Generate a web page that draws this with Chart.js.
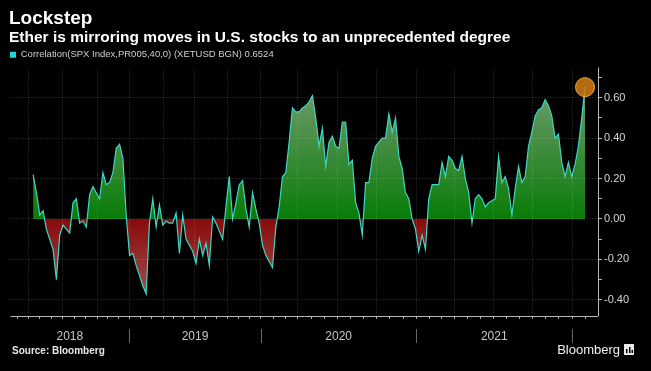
<!DOCTYPE html>
<html>
<head>
<meta charset="utf-8">
<script src="https://cdn.jsdelivr.net/npm/chart.js@4"></script>
<style>
  html, body { margin: 0; padding: 0; background: #000; }
  #wrap { width: 651px; height: 371px; }
</style>
</head>
<body>
<div id="wrap"><canvas id="corrChart" width="651" height="371"></canvas></div>
<script>
// Rolling 40-day correlation, SPX vs Ether, one value per observation
const seriesLabel = 'Correlation(SPX Index,PR005,40,0) (XETUSD BGN) 0.6524';
const correlation = [
  // 2018
  0.22, 0.13, 0.02, 0.04, -0.05, -0.10, -0.15, -0.30, -0.08, -0.03,
  -0.05, -0.07, 0.08, 0.10, -0.02, -0.01, -0.04, 0.12, 0.16, 0.13,
  0.10, 0.23, 0.17, 0.18, 0.23, 0.35, 0.37, 0.30, 0.02, -0.18,
  // 2019
  -0.17, -0.23, -0.28, -0.33, -0.37, -0.02, 0.10, -0.04, 0.07, -0.03,
  -0.01, -0.02, -0.02, 0.03, -0.17, 0.02, -0.10, -0.13, -0.16, -0.22,
  -0.10, -0.18, -0.12, -0.23, 0.01, -0.02, -0.06, -0.10, 0.06, 0.21,
  0.00, 0.08, 0.17, 0.19, 0.05, -0.04, 0.13, 0.05, -0.02, -0.13,
  // 2020
  -0.18, -0.21, -0.24, -0.04, 0.06, 0.21, 0.23, 0.38, 0.55, 0.53,
  0.53, 0.55, 0.56, 0.58, 0.61, 0.50, 0.36, 0.45, 0.26, 0.38,
  0.41, 0.36, 0.35, 0.48, 0.48, 0.27, 0.29, 0.08, 0.03, -0.08,
  0.18, 0.18, 0.30, 0.36, 0.38, 0.40, 0.40, 0.52, 0.43, 0.50,
  0.31, 0.25, 0.13, 0.10, 0.00, -0.05, -0.16, -0.08, -0.15, 0.10,
  // 2021
  0.17, 0.17, 0.17, 0.28, 0.21, 0.31, 0.29, 0.25, 0.24, 0.31,
  0.20, 0.13, -0.02, 0.10, 0.12, 0.10, 0.06, 0.08, 0.09, 0.10,
  0.31, 0.18, 0.21, 0.15, 0.02, 0.15, 0.26, 0.18, 0.21, 0.36,
  0.43, 0.51, 0.54, 0.55, 0.59, 0.56, 0.51, 0.40, 0.42, 0.28,
  0.21, 0.28, 0.21, 0.27, 0.36, 0.50, 0.6524
];

// quarter starts, in observation index (Jan 2018 ... Jan 2022)
const quarterTicks = [-11.6, -1.4, 8.8, 19.3, 28.9, 39.1, 48.4, 58.6, 68.5,
  79.6, 91.6, 103.3, 115.3, 126.7, 138.4, 150.1, 162.1];
const yearLabels = ['2018', '2019', '2020', '2021'];
const xMin = -6.8, xMax = 169.9;
const yMin = -0.48, yMax = 0.74;

function monthTicks() {
  const out = [];
  for (let i = 0; i < quarterTicks.length - 1; i++) {
    const a = quarterTicks[i], b = quarterTicks[i + 1];
    for (let m = 0; m < 3; m++) out.push({ value: a + (b - a) * m / 3, major: m === 0 });
  }
  const last = quarterTicks[quarterTicks.length - 1];
  const step = (last - quarterTicks[quarterTicks.length - 2]) / 3;
  out.push({ value: last, major: true });
  out.push({ value: last + step, major: false });
  out.push({ value: last + step * 2, major: false });
  return out.filter(t => t.value >= xMin && t.value <= xMax);
}

const isMajorY = v => Math.abs(Math.round(v * 10)) % 2 === 0;

function fillGradient(chart) {
  const { ctx, chartArea, scales } = chart;
  if (!chartArea || !scales.y) return 'rgba(0,0,0,0)';
  const top = chartArea.top, bottom = chartArea.bottom;
  const zero = (scales.y.getPixelForValue(0) - top) / (bottom - top);
  const g = ctx.createLinearGradient(0, top, 0, bottom);
  g.addColorStop(0, '#7f9e7a');
  g.addColorStop(zero, '#087c08');
  g.addColorStop(zero, '#880b0b');
  g.addColorStop(1, '#a85e5e');
  return g;
}

const footerPlugin = {
  id: 'footer',
  afterDraw(chart) {
    const { ctx, chartArea, scales: { x } } = chart;
    const base = chartArea.bottom;
    ctx.save();
    // solid axis lines
    ctx.strokeStyle = '#b8b8b8';
    ctx.lineWidth = 1;
    ctx.beginPath();
    ctx.moveTo(chartArea.left, Math.round(base) + 0.5);
    ctx.lineTo(chartArea.right, Math.round(base) + 0.5);
    ctx.moveTo(Math.round(chartArea.right) + 0.5, chartArea.top - 2);
    ctx.lineTo(Math.round(chartArea.right) + 0.5, base);
    ctx.stroke();

    ctx.font = '12px "Liberation Sans"';
    ctx.fillStyle = '#c8c8c8';
    ctx.textAlign = 'center';
    ctx.textBaseline = 'middle';
    yearLabels.forEach((label, i) => {
      const a = Math.max(quarterTicks[i * 4], xMin);
      const b = Math.min(quarterTicks[i * 4 + 4], xMax);
      const xa = x.getPixelForValue(a), xb = x.getPixelForValue(b);
      ctx.fillText(label, (xa + xb) / 2, base + 21);
      const xd = Math.round(x.getPixelForValue(quarterTicks[i * 4 + 4])) + 0.5;
      ctx.strokeStyle = '#666';
      ctx.beginPath();
      ctx.moveTo(xd, base + 13);
      ctx.lineTo(xd, base + 27);
      ctx.stroke();
    });

    ctx.textAlign = 'left';
    ctx.fillStyle = '#e6e6e6';
    ctx.font = 'bold 10px "Liberation Sans"';
    ctx.fillText('Source: Bloomberg', 12, base + 35);

    ctx.textAlign = 'right';
    ctx.fillStyle = '#f2f2f2';
    ctx.font = '13px "Liberation Sans"';
    ctx.fillText('Bloomberg', 620, base + 34);
    // small logo tile
    ctx.fillStyle = '#e8e8e8';
    ctx.fillRect(624, base + 28, 10, 11);
    ctx.fillStyle = '#000';
    ctx.fillRect(626, base + 33, 1.5, 4);
    ctx.fillRect(629, base + 31, 1.5, 6);
    ctx.fillRect(631.5, base + 34, 1.5, 3);
    ctx.restore();
  }
};

new Chart(document.getElementById('corrChart'), {
  type: 'line',
  data: {
    datasets: [{
      label: seriesLabel,
      data: correlation.map((v, i) => ({ x: i, y: v })),
      borderColor: '#3fd6c4',
      borderWidth: 1.2,
      tension: 0,
      fill: { target: { value: 0 } },
      backgroundColor: ctx => fillGradient(ctx.chart),
      pointRadius: ctx => (ctx.dataIndex === correlation.length - 1 ? 9.5 : 0),
      pointBackgroundColor: 'rgba(212,126,18,0.85)',
      pointBorderColor: 'rgba(245,178,70,0.9)',
      pointBorderWidth: 1
    }]
  },
  options: {
    responsive: false,
    animation: false,
    events: [],
    layout: { padding: { left: 9, right: 0, top: 0, bottom: 0 } },
    plugins: {
      title: {
        display: true,
        text: 'Lockstep',
        align: 'start',
        color: '#ffffff',
        font: { family: 'Liberation Sans', size: 19, weight: 'bold', lineHeight: 1.1 },
        padding: { top: 8, bottom: 0 }
      },
      subtitle: {
        display: true,
        text: 'Ether is mirroring moves in U.S. stocks to an unprecedented degree',
        align: 'start',
        color: '#ffffff',
        font: { family: 'Liberation Sans', size: 15.5, weight: 'bold', lineHeight: 1.1 },
        padding: { top: 0, bottom: 3 }
      },
      legend: {
        display: true,
        align: 'start',
        labels: {
          color: '#cfcfcf',
          font: { family: 'Liberation Sans', size: 9.5 },
          boxWidth: 6,
          boxHeight: 6,
          padding: 1,
          generateLabels: () => [{
            text: seriesLabel,
            fillStyle: '#19d8d8',
            strokeStyle: '#19d8d8',
            fontColor: '#cfcfcf',
            lineWidth: 0,
            hidden: false,
            datasetIndex: 0
          }]
        }
      },
      tooltip: { enabled: false }
    },
    scales: {
      x: {
        type: 'linear',
        min: xMin,
        max: xMax,
        afterFit: s => { s.height = 55; },
        afterBuildTicks: s => { s.ticks = monthTicks(); },
        ticks: { display: false },
        border: { display: false, dash: [1, 2] },
        grid: {
          z: 1,
          color: ctx => (ctx.tick && ctx.tick.major ? 'rgba(255,255,255,0.22)' : 'rgba(0,0,0,0)'),
          tickColor: '#a8a8a8',
          tickLength: 3
        }
      },
      y: {
        position: 'right',
        min: yMin,
        max: yMax,
        afterFit: s => { s.width = 53; },
        border: { display: false, dash: [1, 2] },
        grid: {
          z: 1,
          color: ctx => (ctx.tick && isMajorY(ctx.tick.value) ? 'rgba(255,255,255,0.22)' : 'rgba(0,0,0,0)'),
          tickColor: '#b4b4b4',
          tickLength: 4
        },
        ticks: {
          stepSize: 0.1,
          includeBounds: false,
          autoSkip: false,
          padding: 2,
          color: '#d6d6d6',
          font: { family: 'Liberation Sans', size: 11 },
          callback: v => (isMajorY(v) ? (Math.abs(v) < 1e-9 ? 0 : v).toFixed(2) : '')
        }
      }
    }
  },
  plugins: [footerPlugin]
});
</script>
</body>
</html>
